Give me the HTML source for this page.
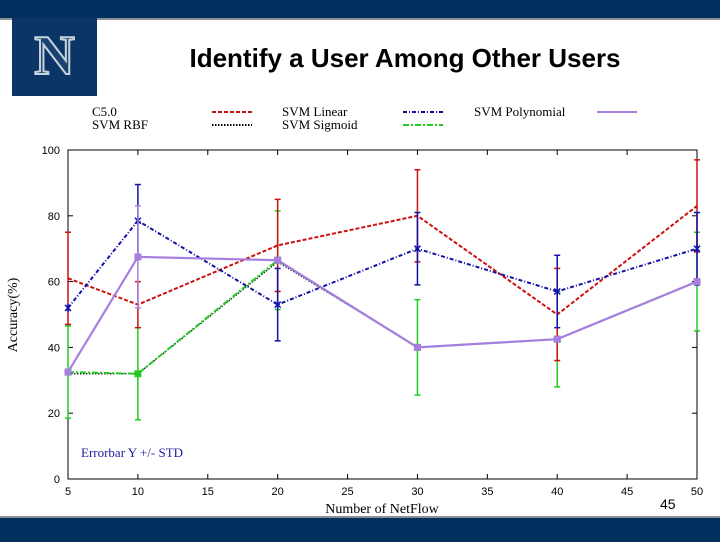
<!DOCTYPE html>
<html><head><meta charset="utf-8"><style>
body{margin:0;width:720px;height:540px;overflow:hidden;background:#fff;font-family:"Liberation Sans",sans-serif;position:relative}
.abs{position:absolute}
</style></head><body>
<div class="abs" style="left:0;top:0;width:720px;height:18px;background:#00305e;border-bottom:2px solid #8a8f96"></div>
<div class="abs" style="left:12px;top:18px;width:85px;height:78px;background:#0b3566;color:#1a4270;font:bold 56px 'Liberation Serif',serif;text-align:center;line-height:76px;-webkit-text-stroke:2px #c8d2dc">N</div>
<div class="abs" style="left:110px;top:43px;width:590px;text-align:center;font-weight:bold;font-size:26px;color:#000">Identify a User Among Other Users</div>
<div class="abs" style="left:0;top:516px;width:720px;height:24px;background:#00305e;border-top:2px solid #8a8f96"></div>
<div class="abs" style="left:660px;top:496px;font-size:14px">45</div>
<svg class="abs" style="left:0;top:0" width="720" height="540">
<g id="legend" font-family="Liberation Serif,serif" font-size="13"></g>
<g id="axes"></g><g id="series"></g>
<text x="81" y="457" font-family="Liberation Serif,serif" font-size="13" fill="#2020a0">Errorbar Y +/- STD</text>
<text x="382" y="513" text-anchor="middle" font-family="Liberation Serif,serif" font-size="14">Number of NetFlow</text>
<text transform="translate(17,315) rotate(-90)" text-anchor="middle" font-family="Liberation Serif,serif" font-size="14">Accuracy(%)</text>
</svg>
<script>
const xCats=[5,10,20,30,40,50];
const xTicks=[5,10,15,20,25,30,35,40,45,50];
const yTicks=[0,20,40,60,80,100];
const c50=[61,53,71,80,50,83];
const c50Err=[14,7,14,14,14,14];
const linear=[52,78.5,53,70,57,70];
const linearErr=[0,11,11,11,11,11];
const rbf=[32,32,66,40,42.5,60];
const sigmoid=[32.5,32,66.5,40,42.5,60];
const sigmoidErr=[14,14,15,14.5,14.5,15];
const poly=[32.5,67.5,66.5,40,42.5,60];
const polyErr=[0,15.5,0,0,0,0];
const NS='http://www.w3.org/2000/svg';
const X0=68,X1=697,Y0=479,Y1=150;
const sx=v=>X0+(v-5)/45*(X1-X0), sy=v=>Y0-v/100*(Y0-Y1);
function mk(t,a,p){const e=document.createElementNS(NS,t);for(const k in a)e.setAttribute(k,a[k]);p.appendChild(e);return e;}
const ax=document.getElementById('axes');
const frame=mk('rect',{x:X0,y:Y1,width:X1-X0,height:Y0-Y1,fill:'none',stroke:'#000','stroke-width':1},ax);


yTicks.forEach(v=>{const y=sy(v);mk('line',{x1:X0,x2:X0+5,y1:y,y2:y,stroke:'#000'},ax);mk('line',{x1:X1,x2:X1-5,y1:y,y2:y,stroke:'#000'},ax);
const t=mk('text',{x:X0-8,y:y+4,'text-anchor':'end','font-size':11},ax);t.textContent=v;

});
xTicks.forEach(v=>{const x=sx(v);mk('line',{x1:x,x2:x,y1:Y0,y2:Y0-5,stroke:'#000'},ax);mk('line',{x1:x,x2:x,y1:Y1,y2:Y1+5,stroke:'#000'},ax);
const t=mk('text',{x:x,y:Y0+16,'text-anchor':'middle','font-size':11},ax);t.textContent=v;

});
const sg=document.getElementById('series');
function series(name,vals,err,color,dash,w,marker){
 const g=mk('g',{},sg);
 
 
 if(err)vals.forEach((v,i)=>{if(!err[i])return;const x=sx(xCats[i]);const a=sy(v+err[i]),b=sy(Math.max(0,v-err[i]));
  mk('line',{x1:x,x2:x,y1:a,y2:b,stroke:color,'stroke-width':1.5},g);
  mk('line',{x1:x-3,x2:x+3,y1:a,y2:a,stroke:color,'stroke-width':1.5},g);
  mk('line',{x1:x-3,x2:x+3,y1:b,y2:b,stroke:color,'stroke-width':1.5},g);});
 mk('polyline',{points:vals.map((v,i)=>sx(xCats[i])+','+sy(v)).join(' '),fill:'none',stroke:color,'stroke-width':w,'stroke-dasharray':dash},g);
 vals.forEach((v,i)=>{const x=sx(xCats[i]),y=sy(v);
  if(marker==='sq')mk('rect',{x:x-3.5,y:y-3.5,width:7,height:7,fill:color},g);
  else if(marker==='x'){mk('path',{d:`M${x-3} ${y-3}L${x+3} ${y+3}M${x-3} ${y+3}L${x+3} ${y-3}M${x} ${y-4}V${y+4}`,stroke:color,'stroke-width':1.5},g);}});
}
series('series-svm-rbf',rbf,null,'#000','1.5 1.5',1.2,null);
series('series-svm-sigmoid',sigmoid,sigmoidErr,'#22cc22','6 2 2 2',2,'sq');
series('series-c50',c50,c50Err,'#cc1111','4 2',2,null);
series('series-svm-linear',linear,linearErr,'#1111aa','4 2 1 2',2,'x');
series('series-svm-polynomial',poly,polyErr,'#a77fe0','',2.2,'sq');
const lg=document.getElementById('legend');
const L=[['C5.0',92,116,'#cc1111','4 2',212],['SVM RBF',92,129,'#000','1.5 1.5',212],['SVM Linear',282,116,'#1111aa','4 2 1 2',403],['SVM Sigmoid',282,129,'#22cc22','6 2 2 2',403],['SVM Polynomial',474,116,'#a77fe0','',597]];
L.forEach(l=>{const g=mk('g',{},lg);
 
 
 const t=mk('text',{x:l[1],y:l[2]},g);t.textContent=l[0];
 mk('line',{x1:l[5],x2:l[5]+40,y1:l[2]-4,y2:l[2]-4,stroke:l[3],'stroke-width':2,'stroke-dasharray':l[4]},g);});
</script>
</body></html>
